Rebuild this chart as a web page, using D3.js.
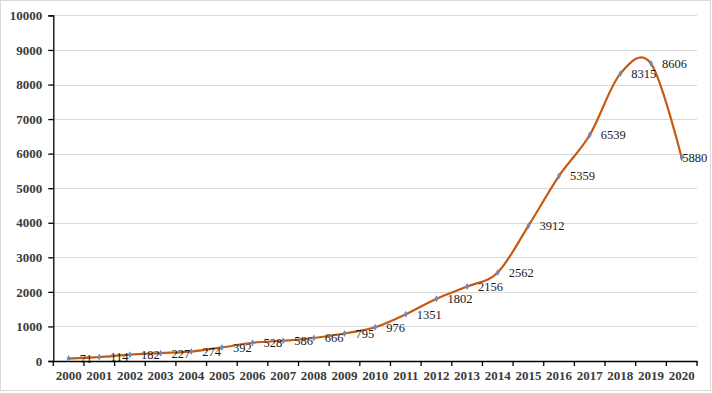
<!DOCTYPE html>
<html>
<head>
<meta charset="utf-8">
<script src="https://cdn.jsdelivr.net/npm/d3@7"></script>
<style>
  body { margin: 0; background: #fff; }
</style>
</head>
<body>
<div id="chart"></div>
<script>
// data
var years = ["2000","2001","2002","2003","2004","2005","2006","2007","2008","2009","2010",
             "2011","2012","2013","2014","2015","2016","2017","2018","2019","2020"];
var counts = [71,114,182,227,274,392,528,586,666,795,976,
              1351,1802,2156,2562,3912,5359,6539,8315,8606,5880];
var yTicks = [0,1000,2000,3000,4000,5000,6000,7000,8000,9000,10000];

var serif = "'Liberation Serif', 'Times New Roman', serif";

// set the dimensions of the graph
var W = 712, H = 393;
var plot = {left: 53.3, right: 697, top: 15.4, bottom: 361};

const svg = d3.select("#chart")
  .append("svg")
    .attr("width", W)
    .attr("height", H)
    .style("font-family", serif);

// outer border
svg.append("rect")
  .attr("x", 0.5).attr("y", 0.5)
  .attr("width", 710).attr("height", 390)
  .attr("fill", "#fff")
  .attr("stroke", "#d9d9d9");

const x = d3.scaleBand()
  .domain(years)
  .range([plot.left, plot.right])
  .padding(0);

const y = d3.scaleLinear()
  .domain([0, 10000])
  .range([plot.bottom, plot.top]);

// gridlines
svg.append("g")
  .selectAll("line")
  .data(yTicks.slice(1))
  .join("line")
    .attr("x1", plot.left).attr("x2", plot.right)
    .attr("y1", d => Math.round(y(d)) + 0.5)
    .attr("y2", d => Math.round(y(d)) + 0.5)
    .attr("stroke", "#d9d9d9")
    .attr("stroke-width", 1);

// Y axis
const yAxis = svg.append("g")
  .attr("transform", `translate(${plot.left},0)`)
  .call(d3.axisLeft(y).tickValues(yTicks).tickSize(5).tickPadding(6).tickFormat(d3.format("d")))
  .attr("font-family", serif);
yAxis.select(".domain").attr("stroke", "#000").attr("stroke-width", 1.3);
yAxis.selectAll(".tick line").attr("stroke", "#000").attr("stroke-width", 1.3);
yAxis.selectAll("text")
  .attr("fill", "#3b3b3b")
  .style("font-size", "13px")
  .style("font-weight", "bold");

// X axis, ticks on category boundaries
const xAxis = svg.append("g")
  .attr("transform", `translate(0,${plot.bottom})`)
  .call(d3.axisBottom(x).tickSize(0).tickPadding(10))
  .attr("font-family", serif);
xAxis.select(".domain").attr("stroke", "#000").attr("stroke-width", 1.3);
xAxis.selectAll("text")
  .attr("fill", "#3b3b3b")
  .style("font-size", "13px")
  .style("font-weight", "bold");
svg.append("g")
  .selectAll("line")
  .data(years.concat(["end"]))
  .join("line")
    .attr("x1", (d, i) => plot.left + i * x.bandwidth())
    .attr("x2", (d, i) => plot.left + i * x.bandwidth())
    .attr("y1", plot.bottom)
    .attr("y2", plot.bottom + 5)
    .attr("stroke", "#000")
    .attr("stroke-width", 1.3);

var pts = years.map((d, i) => ({year: d, value: counts[i]}));
const cx = d => x(d.year) + x.bandwidth() / 2;

// smoothed line
const line = d3.line()
  .x(cx)
  .y(d => y(d.value))
  .curve(d3.curveCardinal.tension(0));

svg.append("path")
  .datum(pts)
  .attr("fill", "none")
  .attr("stroke", "#c55a11")
  .attr("stroke-width", 2.2)
  .attr("d", line);

// markers
svg.append("g")
  .selectAll("path")
  .data(pts)
  .join("path")
    .attr("transform", d => `translate(${cx(d)},${y(d.value)})`)
    .attr("d", d3.symbol().type(d3.symbolDiamond).size(14))
    .attr("fill", "#6a8cc0");

// data labels to the right of the points
svg.append("g")
  .selectAll("text")
  .data(pts)
  .join("text")
    .attr("x", d => Math.min(cx(d) + 11, 707 - String(d.value).length * 6.2))
    .attr("y", d => y(d.value))
    .attr("dy", "0.35em")
    .attr("fill", "#1a1a1a")
    .style("font-size", "12.5px")
    .text(d => d.value);
</script>
</body>
</html>
